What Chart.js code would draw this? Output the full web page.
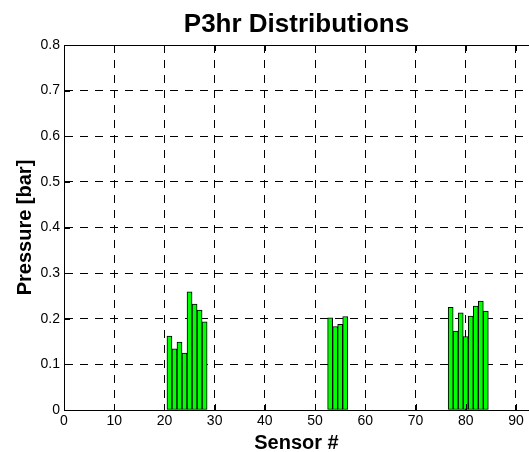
<!DOCTYPE html>
<html>
<head>
<meta charset="utf-8">
<script src="https://cdn.jsdelivr.net/npm/chart.js@4/dist/chart.umd.min.js"></script>
<style>
  html, body { margin: 0; padding: 0; background: #fff; overflow: hidden; }
</style>
</head>
<body>
<canvas id="bar_chart" width="529" height="452"></canvas>
<script>
// sensor numbers and P3hr pressure per sensor (bar)
var sensors = [21, 22, 23, 24, 25, 26, 27, 28,
               53, 54, 55, 56,
               77, 78, 79, 80, 81, 82, 83, 84];
var pressures = [0.162, 0.134, 0.149, 0.125, 0.259, 0.232, 0.219, 0.193,
                 0.202, 0.183, 0.188, 0.205,
                 0.225, 0.173, 0.213, 0.161, 0.206, 0.228, 0.239, 0.217];
var xTicks = [0, 10, 20, 30, 40, 50, 60, 70, 80, 90];
var yTicks = [0, 0.1, 0.2, 0.3, 0.4, 0.5, 0.6, 0.7, 0.8];

var fontFamily = '"Liberation Sans", Arial, Helvetica, sans-serif';

// matlab style box, inner ticks and labels
var frame = {
  id: 'frame',
  afterDraw: function (chart) {
    var ctx = chart.ctx, a = chart.chartArea;
    var xs = chart.scales.x, ys = chart.scales.y;
    ctx.save();
    ctx.strokeStyle = '#000';
    ctx.lineWidth = 1;
    ctx.beginPath();
    ctx.moveTo(a.left, Math.round(a.top) + 0.5);
    ctx.lineTo(a.right, Math.round(a.top) + 0.5);
    xTicks.forEach(function (v) {
      var px = Math.round(xs.getPixelForValue(v)) + 0.5;
      ctx.moveTo(px, a.bottom); ctx.lineTo(px, a.bottom - 6);
      ctx.moveTo(px, a.top); ctx.lineTo(px, a.top + 6);
    });
    yTicks.forEach(function (v) {
      var py = Math.round(ys.getPixelForValue(v)) + 0.5;
      ctx.moveTo(a.left, py); ctx.lineTo(a.left + 6, py);
    });
    ctx.stroke();

    ctx.fillStyle = '#000';
    ctx.textAlign = 'center';
    ctx.textBaseline = 'alphabetic';
    var cx = (a.left + a.right) / 2;
    ctx.font = 'bold 26px ' + fontFamily;
    ctx.fillText('P3hr Distributions', cx, 32);
    ctx.font = 'bold 20px ' + fontFamily;
    ctx.fillText('Sensor #', cx, 449);
    ctx.translate(31, (a.top + a.bottom) / 2);
    ctx.rotate(-Math.PI / 2);
    ctx.fillText('Pressure [bar]', 0, 0);
    ctx.restore();
  }
};

new Chart(document.getElementById('bar_chart').getContext('2d'), {
  type: 'bar',
  data: {
    datasets: [{
      label: 'P3hr',
      data: sensors.map(function (s, i) { return { x: s, y: pressures[i] }; }),
      backgroundColor: '#00ff00',
      borderColor: '#000',
      borderWidth: 1,
      borderSkipped: false,
      barPercentage: 1,
      categoryPercentage: 1
    }]
  },
  options: {
    responsive: false,
    animation: false,
    devicePixelRatio: 1,
    layout: { padding: { top: 45, right: 0, bottom: 0, left: 0 } },
    plugins: { legend: { display: false }, tooltip: { enabled: false }, title: { display: false } },
    scales: {
      x: {
        type: 'linear',
        min: 0,
        max: 92.6,
        offset: false,
        afterFit: function (s) { s.height = 42; },
        ticks: { stepSize: 10, includeBounds: false, maxRotation: 0, padding: 3, color: '#000',
                 font: { family: fontFamily, size: 14 } },
        grid: { offset: false, color: '#000', lineWidth: 1, drawTicks: false },
        border: { display: true, color: '#000', width: 1, dash: [8, 7] }
      },
      y: {
        min: 0,
        max: 0.8,
        afterFit: function (s) { s.width = 64; },
        ticks: { stepSize: 0.1, padding: 4, color: '#000',
                 font: { family: fontFamily, size: 14 } },
        grid: { color: '#000', lineWidth: 1, drawTicks: false },
        border: { display: true, color: '#000', width: 1, dash: [8, 7] }
      }
    }
  },
  plugins: [frame]
});
</script>
</body>
</html>
